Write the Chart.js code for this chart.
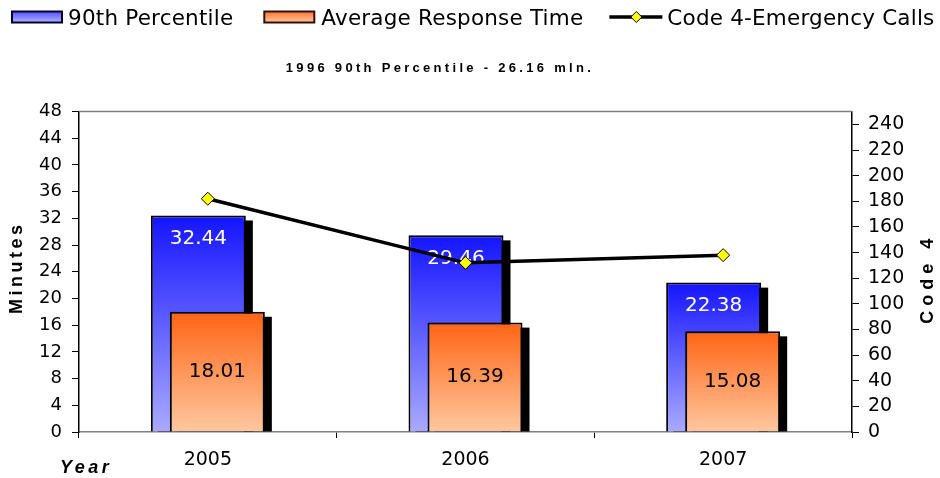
<!DOCTYPE html>
<html><head><meta charset="utf-8">
<script src="https://cdn.jsdelivr.net/npm/chart.js@4.4.1/dist/chart.umd.min.js"></script>
<style>html,body{margin:0;padding:0;background:#fff;overflow:hidden;}</style>
</head><body>
<canvas id="c" width="940" height="478"></canvas>
<script>
const years = ['2005', '2006', '2007'];
const percentile90 = [32.44, 29.46, 22.38];
const avgResponse = [18.01, 16.39, 15.08];
const code4Calls = [182, 132, 138];
const seriesNames = ['90th Percentile', 'Average Response Time', 'Code 4-Emergency Calls'];
const chartTitle = '1996 90th Percentile - 26.16 mln.';
const leftAxisTitle = 'Minutes';
const rightAxisTitle = 'Code 4';
const xAxisTitle = 'Year';
const minutesMax = 48, minutesStep = 4;
const code4Max = 250, code4Step = 20, code4LastLabel = 240;

Chart.defaults.font.family = '"DejaVu Sans", Verdana, sans-serif';
Chart.defaults.color = '#000';

function gradFor(ctx, top, bottom) {
  const chart = ctx.chart;
  if (!chart.chartArea || ctx.type !== 'data') return top;
  const ys = chart.scales.y;
  const y0 = ys.getPixelForValue(ctx.raw), y1 = ys.getPixelForValue(0);
  const g = chart.ctx.createLinearGradient(0, y0, 0, y1);
  g.addColorStop(0, top); g.addColorStop(1, bottom);
  return g;
}

function drawLegendBox(ctx, x, y, kind) {
  const g = ctx.createLinearGradient(0, y, 0, y + 11);
  if (kind === 'blue') { g.addColorStop(0, '#5050ff'); g.addColorStop(1, '#b4b4ff'); }
  else { g.addColorStop(0, '#ff7430'); g.addColorStop(1, '#ffc8a0'); }
  ctx.fillStyle = g; ctx.fillRect(x, y, 50, 11);
  ctx.strokeStyle = kind === 'blue' ? '#000030' : '#301000'; ctx.lineWidth = 2;
  ctx.strokeRect(x, y, 50, 11);
}

const decorations = {
  id: 'decorations',
  beforeDraw(chart) {
    const tb = chart.titleBlock;
    if (tb && !tb._patched) {
      const orig = tb.draw;
      tb.draw = function (...a) {
        const c = this.ctx; c.save(); c.letterSpacing = '3.3px'; c.translate(-30, 0);
        orig.apply(this, a); c.restore();
      };
      tb._patched = true;
    }
  },
  beforeDatasetsDraw(chart) {
    const ctx = chart.ctx, ca = chart.chartArea;
    ctx.save();
    ctx.strokeStyle = '#808080'; ctx.lineWidth = 1.5;
    ctx.beginPath(); ctx.moveTo(ca.left, ca.top); ctx.lineTo(ca.right, ca.top); ctx.stroke();
    ctx.fillStyle = '#000';
    [0, 1].forEach(i => {
      chart.getDatasetMeta(i).data.forEach(el => {
        const w = el.width;
        ctx.fillRect(el.x - w / 2 + 7, el.y + 5, w, el.base - el.y - 5);
      });
    });
    ctx.restore();
  },
  beforeDatasetDraw(chart, args) {
    if (args.index === 1) return false;
  },
  afterDatasetDraw(chart, args) {
    if (args.index !== 0) return;
    const ctx = chart.ctx;
    const drawLabels = (meta, vals, white) => {
      ctx.save();
      ctx.font = '20px "DejaVu Sans"';
      ctx.textAlign = 'center'; ctx.textBaseline = 'middle';
      ctx.fillStyle = white ? '#ffffff' : '#000000';
      meta.data.forEach((el, k) => {
        const y = white ? el.y + 23 : (el.y + el.base) / 2;
        ctx.fillText(vals[k].toFixed(2), el.x, y);
      });
      ctx.restore();
    };
    drawLabels(args.meta, percentile90, true);
    const om = chart.getDatasetMeta(1);
    om.data.forEach(el => el.draw(ctx, chart.chartArea));
    drawLabels(om, avgResponse, false);
  },
  afterDraw(chart) {
    const ctx = chart.ctx, ca = chart.chartArea;
    ctx.save();
    // legend
    ctx.font = '21.5px "DejaVu Sans"';
    ctx.letterSpacing = '0.2px';
    ctx.textAlign = 'left'; ctx.textBaseline = 'middle';
    const ly = 19;
    let x = 12;
    drawLegendBox(ctx, x, 11.5, 'blue');
    x += 56; ctx.fillStyle = '#000'; ctx.fillText(seriesNames[0], x, ly);
    x += ctx.measureText(seriesNames[0]).width + 31;
    drawLegendBox(ctx, x, 11.5, 'orange');
    x += 57; ctx.fillStyle = '#000'; ctx.fillText(seriesNames[1], x, ly);
    x += ctx.measureText(seriesNames[1]).width + 26;
    ctx.strokeStyle = '#000'; ctx.lineWidth = 3.5;
    ctx.beginPath(); ctx.moveTo(x, 17); ctx.lineTo(x + 53, 17); ctx.stroke();
    ctx.fillStyle = '#ffff00'; ctx.lineWidth = 1;
    ctx.beginPath(); ctx.moveTo(x + 27, 11.5); ctx.lineTo(x + 32.5, 17); ctx.lineTo(x + 27, 22.5); ctx.lineTo(x + 21.5, 17); ctx.closePath();
    ctx.fill(); ctx.stroke();
    x += 58; ctx.fillStyle = '#000'; ctx.fillText(seriesNames[2], x, ly);
    // axis titles
    ctx.fillStyle = '#000';
    ctx.letterSpacing = '3.5px';
    ctx.font = 'bold 18px "Liberation Sans", Arial, sans-serif';
    ctx.textAlign = 'center'; ctx.textBaseline = 'middle';
    ctx.save(); ctx.translate(17, (ca.top + ca.bottom) / 2 - 4); ctx.rotate(-Math.PI / 2);
    ctx.fillText(leftAxisTitle, 0, 0); ctx.restore();
    ctx.save(); ctx.translate(928, (ca.top + ca.bottom) / 2 + 7); ctx.rotate(-Math.PI / 2);
    ctx.letterSpacing = '5px';
    ctx.fillText(rightAxisTitle, 0, 0); ctx.restore();
    ctx.font = 'italic bold 18px "Liberation Sans", Arial, sans-serif';
    ctx.textAlign = 'left';
    ctx.fillText(xAxisTitle, 60, ca.bottom + 36);
    ctx.restore();
  }
};

new Chart(document.getElementById('c'), {
  type: 'bar',
  data: {
    labels: years,
    datasets: [
      {
        label: seriesNames[0], data: percentile90, yAxisID: 'y', order: 1,
        backgroundColor: c => gradFor(c, '#1414ff', '#aaaaff'),
        borderColor: '#000', borderWidth: 2, borderSkipped: 'start',
        categoryPercentage: 0.1475, barPercentage: 5
      },
      {
        label: seriesNames[1], data: avgResponse, yAxisID: 'y', order: 2,
        backgroundColor: c => gradFor(c, '#ff6414', '#ffc8a0'),
        borderColor: '#000', borderWidth: 2, borderSkipped: 'start',
        categoryPercentage: 0.1475, barPercentage: 5
      },
      {
        type: 'line', label: seriesNames[2], data: code4Calls, yAxisID: 'y1', order: 0,
        borderColor: '#000', borderWidth: 3.5, tension: 0,
        pointStyle: 'rectRot', pointRadius: 6.5, pointBackgroundColor: '#ffff00',
        pointBorderColor: '#000', pointBorderWidth: 1
      }
    ]
  },
  options: {
    responsive: false, animation: false,
    layout: { padding: 0 },
    plugins: {
      legend: { display: false },
      title: {
        display: true, text: chartTitle, color: '#000',
        font: { family: '"Liberation Sans", Arial, sans-serif', size: 13, weight: 'bold' },
        padding: { top: 61, bottom: 35 }
      },
      tooltip: { enabled: false }
    },
    scales: {
      x: {
        offset: true,
        grid: { display: true, offset: true, drawOnChartArea: false, color: '#000', tickLength: 6 },
        border: { color: '#808080', width: 1.5 },
        ticks: { font: { size: 19 }, color: '#000', padding: 11, maxRotation: 0 },
        afterFit: s => { s.height = 46; }
      },
      y: {
        position: 'left', min: 0, max: minutesMax,
        ticks: { stepSize: minutesStep, font: { size: 18 }, color: '#000', padding: 10 },
        grid: { drawOnChartArea: false, color: '#000', tickLength: 7 },
        border: { color: '#000', width: 1.5 },
        afterFit: s => { s.width = 79; }
      },
      y1: {
        position: 'right', min: 0, max: code4Max,
        ticks: { stepSize: code4Step, font: { size: 19 }, color: '#000', padding: 9 },
        afterBuildTicks: s => {
          const t = [];
          for (let v = 0; v <= code4LastLabel; v += code4Step) t.push({ value: v });
          s.ticks = t;
        },
        grid: { drawOnChartArea: false, color: '#000', tickLength: 7 },
        border: { color: '#000', width: 1.5 },
        afterFit: s => { s.width = 88; }
      }
    }
  },
  plugins: [decorations]
});
</script>
</body></html>
